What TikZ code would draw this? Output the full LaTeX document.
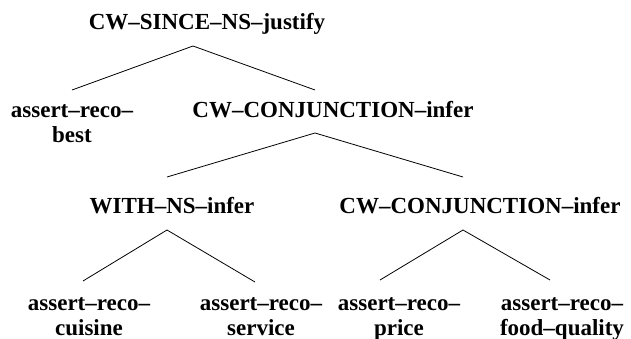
\documentclass[tikz,border=0pt]{standalone}
\usepackage{fontspec}
\setmainfont{Liberation Serif}
\begin{document}
\begin{tikzpicture}[x=1pt,y=-1pt,
  lbl/.style={inner sep=0pt,anchor=base,align=center,font=\bfseries\fontsize{23}{25}\selectfont},
  edge/.style={line width=0.8pt}]
\useasboundingbox (0,0) rectangle (631,339);
% nodes (multi-line nodes are anchored at the baseline of their last line)
\node[lbl] (root) at (207,30) {CW–SINCE–NS–justify};
\node[lbl] (best) at (72,143) {assert–reco–\\best};
\node[lbl] (conjA) at (333,118) {CW–CONJUNCTION–infer};
\node[lbl] (with) at (172,213) {WITH–NS–infer};
\node[lbl] (conjB) at (480,213) {CW–CONJUNCTION–infer};
\node[lbl] (cuisine) at (89,335) {assert–reco–\\cuisine};
\node[lbl] (service) at (261,335) {assert–reco–\\service};
\node[lbl] (price) at (399,335) {assert–reco–\\price};
\node[lbl] (food) at (562,335) {assert–reco–\\food–quality};
% connector end points
\coordinate (root-a) at (193,46);
\coordinate (best-t) at (72,90);
\coordinate (conjA-t) at (315,90);
\coordinate (conjA-a) at (315,133);
\coordinate (with-t) at (167,177);
\coordinate (conjB-t) at (463,177);
\coordinate (with-a) at (167,230);
\coordinate (cuisine-t) at (83,281);
\coordinate (service-t) at (255,282);
\coordinate (conjB-a) at (463,230);
\coordinate (price-t) at (380,280);
\coordinate (food-t) at (550,280);
% connectors
\draw[edge] (best-t) -- (root-a) -- (conjA-t);
\draw[edge] (with-t) -- (conjA-a) -- (conjB-t);
\draw[edge] (cuisine-t) -- (with-a) -- (service-t);
\draw[edge] (price-t) -- (conjB-a) -- (food-t);
\end{tikzpicture}
\end{document}
